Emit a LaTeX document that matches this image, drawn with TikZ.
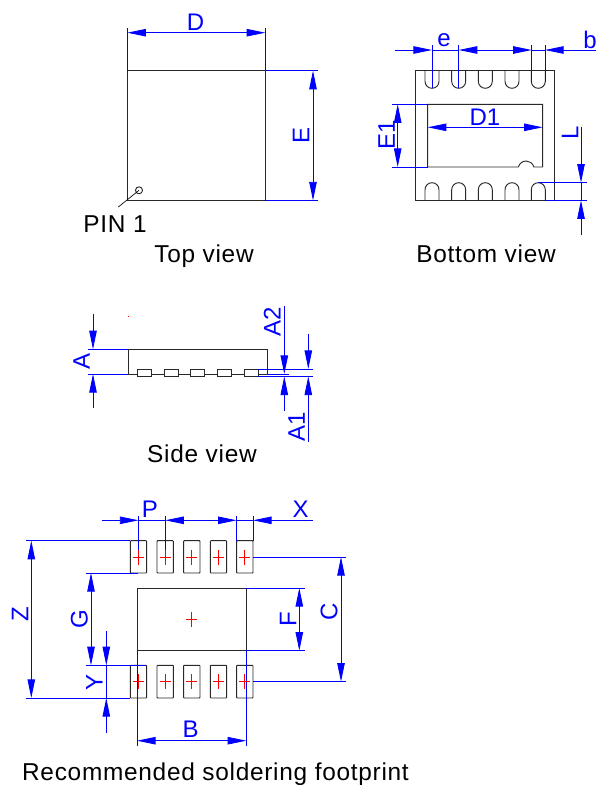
\documentclass[tikz,border=0pt]{standalone}
\usepackage{fontspec}
\setmainfont{Liberation Sans}
\usetikzlibrary{arrows.meta}
\definecolor{dimblue}{RGB}{0,0,255}
\definecolor{outl}{RGB}{40,40,40}
\tikzset{
  x=0.75pt,y=-0.75pt,
  outline/.style={draw=outl,line width=0.7pt},
  extline/.style={draw=dimblue,line width=0.65pt},
  dimtip/.style={draw=dimblue,line width=0.65pt,-{Triangle[length=14pt,width=5.6pt]}},
  dimboth/.style={draw=dimblue,line width=0.65pt,{Triangle[length=14pt,width=5.6pt]}-{Triangle[length=14pt,width=5.6pt]}},
  cross/.style={draw=red,line width=0.75pt},
  dimlab/.style={text=dimblue,font=\fontsize{18}{20}\selectfont,inner sep=0pt},
  caption/.style={text=black,font=\fontsize{18.3}{21}\selectfont\addfontfeature{LetterSpace=3},inner sep=0pt},
}
\newcommand\dimin[3]{\coordinate (#1a) at (#2);\coordinate (#1b) at (#3);\draw[dimboth] (#1a) -- (#1b);}
\newcommand\dimout[5]{\coordinate (#1f) at (#2);\coordinate (#1a) at (#3);\coordinate (#1b) at (#4);\coordinate (#1g) at (#5);
  \draw[dimtip] (#1f) -- (#1a);\draw[dimtip] (#1g) -- (#1b);}
\begin{document}
\begin{tikzpicture}
\useasboundingbox (0,0) rectangle (596,785);
% ---------- top view
\draw[outline] (127.3,70.7) rectangle (265.3,200.5);
\draw[outline] (139,190.3) circle[radius=3.5];
\coordinate (pinc) at (139,190.3);
\coordinate (pinl) at (118.3,207);
\draw[draw=black,line width=0.5pt] (pinl) -- (pinc);
\draw[extline] (127.3,28) -- (127.3,71) (265.3,28) -- (265.3,71);
\draw[extline] (265.3,70.7) -- (318,70.7) (265.3,200.5) -- (318,200.5);
\dimin{D}{127.3,32.7}{265.3,32.7}
\dimin{E}{313,70.7}{313,200.5}
\node[dimlab] (lD) at (195.5,22) {D};
\node[dimlab,rotate=90] (lE) at (301,135.5) {E};
\node[caption] (lpin) at (115,224) {PIN 1};
\node[caption] (ltop) at (204,256) {Top view};
% ---------- bottom view
\draw[outline] (415.7,70.7) rectangle (554.3,200.3);
\foreach \c in {432,458.7,485.3,512,538.3}{
  \draw[outline] ({\c-7},70.7) -- ({\c-7},81.3) .. controls ({\c-7},85.2) and ({\c-3.9},88.3) .. (\c,88.3)
     .. controls ({\c+3.9},88.3) and ({\c+7},85.2) .. ({\c+7},81.3) -- ({\c+7},70.7);
  \draw[outline] ({\c-7},200.3) -- ({\c-7},189.7) .. controls ({\c-7},185.8) and ({\c-3.9},182.7) .. (\c,182.7)
     .. controls ({\c+3.9},182.7) and ({\c+7},185.8) .. ({\c+7},189.7) -- ({\c+7},200.3);
}
\draw[outline] (518.3,167) -- (427.7,167) -- (427.7,104.3) -- (542.7,104.3) -- (542.7,167) -- (534,167)
   .. controls (532.5,163) and (529.5,161) .. (526.2,161) .. controls (522.8,161) and (519.8,163) .. (518.3,167);
\draw[extline] (432,45) -- (432,88.3) (458.7,45) -- (458.7,88.3) (531.7,45) -- (531.7,82) (545,45) -- (545,82);
\draw[extline] (392,104.3) -- (427.7,104.3) (392,167) -- (427.7,167);
\draw[extline] (538,182.7) -- (586.7,182.7) (545.7,200.3) -- (586.7,200.3);
\dimout{e}{395,50}{432,50}{458.7,50}{497,50}
\dimout{b}{497,50}{531.7,50}{545,50}{596,50}
\draw[extline] (432,50) -- (458.7,50) (531.7,50) -- (545,50);
\dimin{Done}{427.7,127.3}{542.7,127.3}
\dimin{Eone}{397.7,104.3}{397.7,167}
\dimout{L}{581,126.7}{581,182.7}{581,200.3}{581,235}
\draw[extline] (581,182.7) -- (581,200.3);
\node[dimlab] (le) at (444,40) {e};
\node[dimlab] (lb) at (590,40) {b};
\node[dimlab] (lDone) at (485,117) {D1};
\node[dimlab,rotate=90] (lEone) at (386.7,135) {E1};
\node[dimlab,rotate=90] (lL) at (570,133) {L};
\node[caption] (lbot) at (486,253.5) {Bottom view};
% ---------- side view
\draw[outline] (128.3,349.3) rectangle (267.3,374);
\foreach \c in {137.3,164,190.7,217.3,244}{
  \draw[outline,fill=white] (\c,369) rectangle ({\c+14},376.7);
}
\fill[red] (128,316) rectangle (128.8,316.8);
\draw[extline] (88,349.3) -- (128.3,349.3) (88,374) -- (128.3,374);
\draw[extline] (258,369) -- (313,369) (258,376.4) -- (313,376.4) (267,374) -- (289,374);
\dimout{A}{93,314}{93,349.3}{93,374}{93,408}
\dimout{Atwo}{284.3,306}{284.3,374}{284.3,376.4}{284.3,411}
\dimout{Aone}{308.3,334}{308.3,369}{308.3,376.4}{308.3,441.7}
\node[dimlab,rotate=90] (lA) at (81.7,361.7) {A};
\node[dimlab,rotate=90] (lAtwo) at (272.3,321.7) {A2};
\node[dimlab,rotate=90] (lAone) at (296.7,426.7) {A1};
\node[caption] (lside) at (202,454) {Side view};
% ---------- footprint
\draw[outline] (137,588) rectangle (246.3,650.7);
\foreach \c in {138.5,165.2,191.8,218.5,244.8}{
  \draw[outline,rounded corners=0.5pt] ({\c-8.2},540.7) rectangle ({\c+8.2},573);
  \draw[outline,rounded corners=0.5pt] ({\c-8.2},665.3) rectangle ({\c+8.2},698);
}
\draw[extline] (138.5,516) -- (138.5,557) (165.2,516) -- (165.2,557) (236.7,516) -- (236.7,540.7) (253,516) -- (253,540.7);
\draw[extline] (26,540.7) -- (130.3,540.7) (26,698) -- (130.3,698);
\draw[extline] (86,573) -- (138,573) (86,665.3) -- (146,665.3);
\draw[extline] (137,650.7) -- (137,746) (246.3,650.7) -- (246.3,746);
\draw[extline] (253,557) -- (346,557) (253,681.7) -- (346,681.7);
\draw[extline] (246.3,588) -- (304.7,588) (246.3,650.7) -- (304.7,650.7);
\foreach \c in {138.5,165.2,191.8,218.5,244.8}{
  \draw[cross] ({\c-5.5},557) -- ({\c+5.5},557) (\c,549.5) -- (\c,564.5);
  \draw[cross] ({\c-5.5},681.7) -- ({\c+5.5},681.7) (\c,674.2) -- (\c,689.2);
}
\draw[cross] (186.2,619.5) -- (197.2,619.5) (191.7,612) -- (191.7,627);
\dimout{P}{101.7,520.3}{138.5,520.3}{165.2,520.3}{200,520.3}
\dimout{X}{200,520.3}{236.7,520.3}{253,520.3}{312.7,520.3}
\draw[extline] (138.5,520.3) -- (165.2,520.3) (236.7,520.3) -- (253,520.3);
\dimin{Z}{31.3,540.7}{31.3,698}
\dimin{G}{91,573}{91,665.3}
\dimout{Y}{106.3,631}{106.3,665.3}{106.3,698}{106.3,732.7}
\draw[extline] (106.3,665.3) -- (106.3,698);
\dimin{B}{137,740.7}{246.3,740.7}
\dimin{C}{341,557}{341,681.7}
\dimin{F}{299.3,588}{299.3,650.7}
\node[dimlab] (lP) at (150,509) {P};
\node[dimlab] (lX) at (300.7,509) {X};
\node[dimlab,rotate=90] (lZ) at (20,614) {Z};
\node[dimlab,rotate=90] (lG) at (79.3,619) {G};
\node[dimlab,rotate=90] (lY) at (94.3,682) {Y};
\node[dimlab] (lB) at (190.7,729) {B};
\node[dimlab,rotate=90] (lC) at (329,611.7) {C};
\node[dimlab,rotate=90] (lF) at (288,619) {F};
\node[caption] (lrec) at (215.5,774.5) {Recommended soldering footprint};
\end{tikzpicture}
\end{document}
